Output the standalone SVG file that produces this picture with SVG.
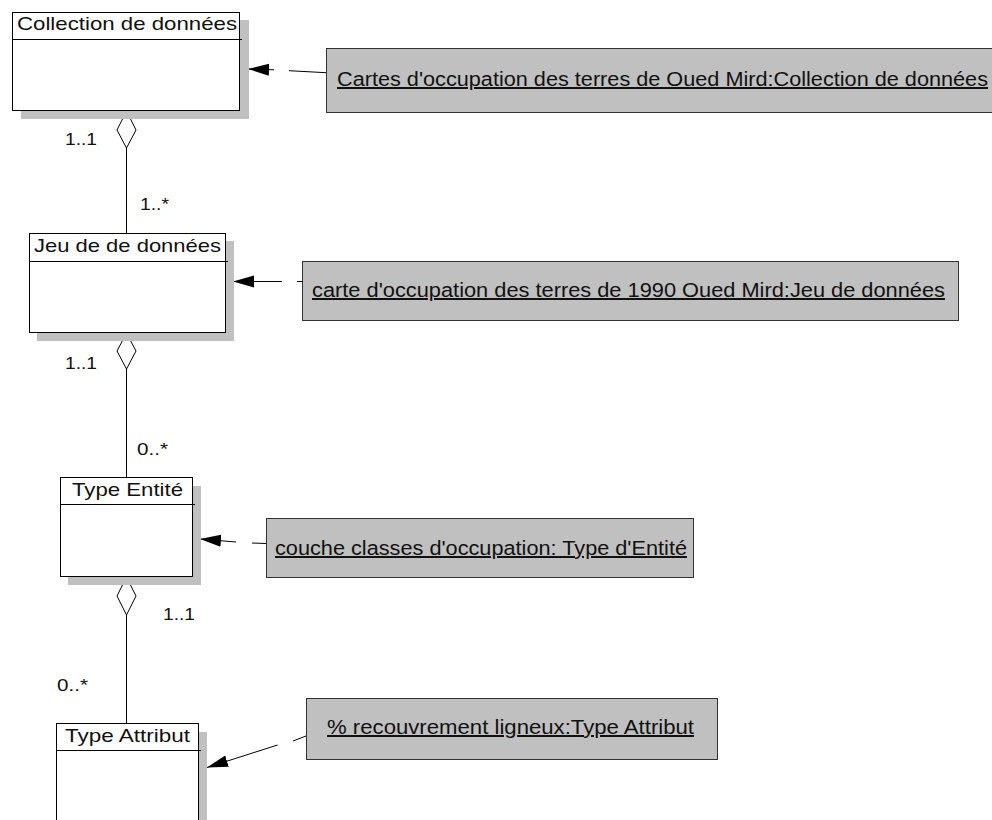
<svg xmlns="http://www.w3.org/2000/svg" width="992" height="820" viewBox="0 0 992 820">
<style>
text{font-family:"Liberation Sans",Arial,sans-serif;fill:#111}
.shadow{fill:#c0c0c0;stroke:none}
.box{fill:#fff;stroke:#000;stroke-width:1}
.div{stroke:#000;stroke-width:1}
.title{font-size:19px}
.note{fill:#c0c0c0;stroke:#333;stroke-width:1}
.ntext{font-size:20px;text-decoration:underline}
.mult{font-size:17px}
.assoc{stroke:#000;stroke-width:1;fill:none}
.dia{fill:#fff;stroke:#000;stroke-width:1}
.dep{stroke:#000;stroke-width:1;fill:none;marker-end:url(#arr)}
</style>
<defs>
<marker id="arr" markerUnits="userSpaceOnUse" markerWidth="22" markerHeight="13" refX="21" refY="6.5" orient="auto">
<path d="M0,0.5 L21,6.5 L0,12.5 z" fill="#000"/>
</marker>
</defs>
<rect width="992" height="820" fill="#fff"/>

<g id="connectors">
<line class="assoc" x1="126.5" y1="148" x2="126.5" y2="233"/>
<polygon class="dia" points="126.5,111 136,130 126.5,148 117,130"/>
<text class="mult" x="65" y="145" textLength="32" lengthAdjust="spacingAndGlyphs">1..1</text>
<text class="mult" x="140" y="210" textLength="29" lengthAdjust="spacingAndGlyphs">1..*</text>

<line class="assoc" x1="126.5" y1="369" x2="126.5" y2="477"/>
<polygon class="dia" points="126.5,333 136,351 126.5,369 117,351"/>
<text class="mult" x="65" y="369" textLength="32" lengthAdjust="spacingAndGlyphs">1..1</text>
<text class="mult" x="137" y="455" textLength="31" lengthAdjust="spacingAndGlyphs">0..*</text>

<line class="assoc" x1="126.5" y1="615" x2="126.5" y2="723"/>
<polygon class="dia" points="126.5,577 136,596 126.5,615 117,596"/>
<text class="mult" x="163" y="620" textLength="32" lengthAdjust="spacingAndGlyphs">1..1</text>
<text class="mult" x="57" y="691" textLength="31" lengthAdjust="spacingAndGlyphs">0..*</text>

<path class="dep" d="M326,72.7 L289,70.7 M274,69.8 L248,69"/>
<path class="dep" d="M302,281.5 L297,281.5 M282,281.5 L233,281.5"/>
<path class="dep" d="M266,543.5 L252,543 M236,542 L200,539"/>
<path class="dep" d="M306,736 L293,741 M277.6,745 L207,767.5"/>
</g>

<g id="collection">
<rect class="shadow" x="21" y="20" width="228" height="99"/>
<rect class="box" x="12.5" y="12.5" width="227" height="98"/>
<line class="div" x1="12.5" y1="39.5" x2="242" y2="39.5"/>
<text class="title" x="17" y="30" textLength="220" lengthAdjust="spacingAndGlyphs">Collection de données</text>
</g>

<g id="jeu">
<rect class="shadow" x="37" y="241" width="197" height="100"/>
<rect class="box" x="29.5" y="233.5" width="196" height="99"/>
<line class="div" x1="29.5" y1="261.5" x2="228" y2="261.5"/>
<text class="title" x="34" y="252" textLength="187" lengthAdjust="spacingAndGlyphs">Jeu de de données</text>
</g>

<g id="entite">
<rect class="shadow" x="68" y="486" width="133" height="99"/>
<rect class="box" x="60.5" y="477.5" width="132" height="99"/>
<line class="div" x1="60.5" y1="504.5" x2="195" y2="504.5"/>
<text class="title" x="72" y="496" textLength="111" lengthAdjust="spacingAndGlyphs">Type Entité</text>
</g>

<g id="attribut">
<rect class="shadow" x="64" y="732" width="143" height="100"/>
<rect class="box" x="56.5" y="723.5" width="142" height="110"/>
<line class="div" x1="56.5" y1="750.5" x2="201" y2="750.5"/>
<text class="title" x="65" y="742" textLength="125" lengthAdjust="spacingAndGlyphs">Type Attribut</text>
</g>

<g id="note-collection">
<rect class="note" x="326.5" y="48.5" width="670" height="64"/>
<text class="ntext" x="337" y="86" textLength="651" lengthAdjust="spacingAndGlyphs">Cartes d'occupation des terres de Oued Mird:Collection de données</text>
</g>

<g id="note-jeu">
<rect class="note" x="302.5" y="261.5" width="656" height="59"/>
<text class="ntext" x="312" y="297" textLength="633" lengthAdjust="spacingAndGlyphs">carte d'occupation des terres de 1990 Oued Mird:Jeu de données</text>
</g>

<g id="note-entite">
<rect class="note" x="266.5" y="518.5" width="427" height="59"/>
<text class="ntext" x="275" y="555" textLength="412" lengthAdjust="spacingAndGlyphs">couche classes d'occupation: Type d'Entité</text>
</g>

<g id="note-attribut">
<rect class="note" x="306.5" y="698.5" width="411" height="61"/>
<text class="ntext" x="327" y="734" textLength="367" lengthAdjust="spacingAndGlyphs">% recouvrement ligneux:Type Attribut</text>
</g>
</svg>
